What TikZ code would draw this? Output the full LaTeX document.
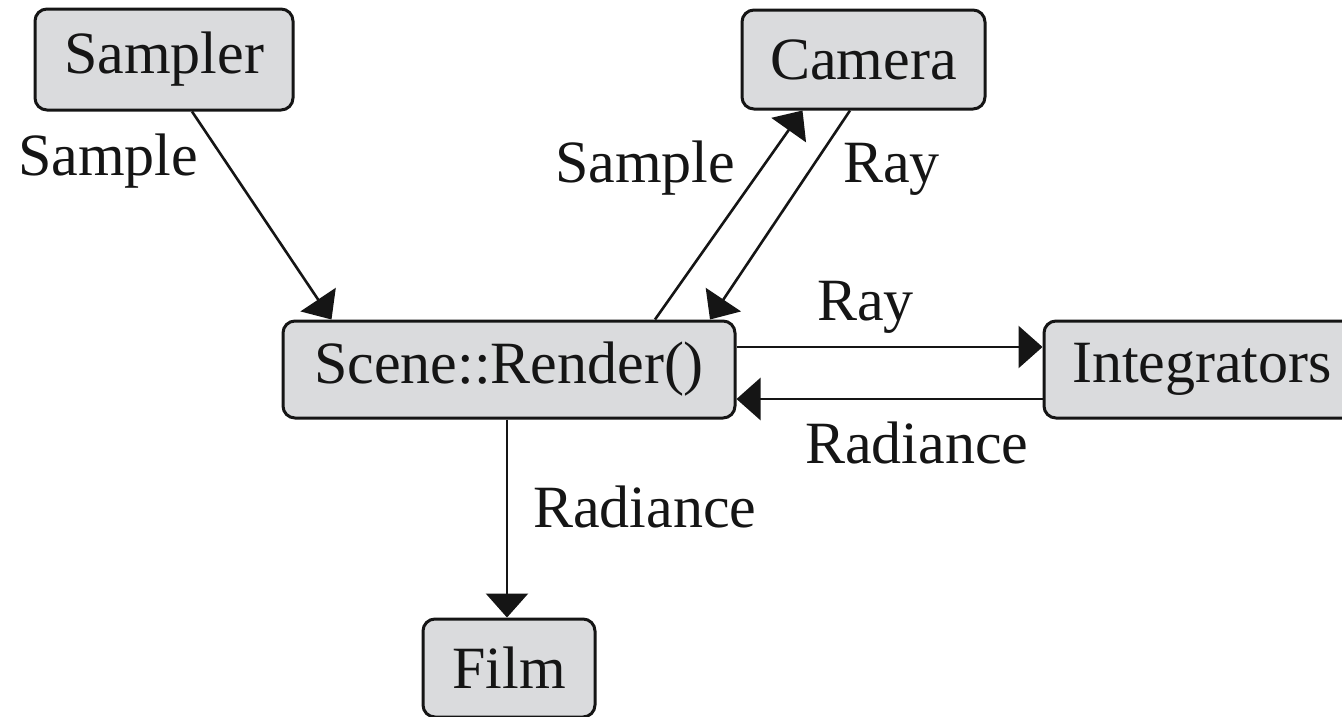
\documentclass[tikz,border=0pt]{standalone}
\usepackage{fontspec}
\setmainfont{Liberation Serif}
\usetikzlibrary{arrows.meta}
\definecolor{boxfill}{HTML}{DADBDD}
\definecolor{ink}{HTML}{151515}
\tikzset{
  blk/.style={draw=ink, line width=3pt, fill=boxfill, rounded corners=12pt, inner sep=0pt, font=\fontsize{60}{72}\selectfont, text=ink},
  lbl/.style={inner sep=0pt, anchor=base west, font=\fontsize{60}{72}\selectfont, text=ink},
  conn/.style={draw=ink, line width=2.6pt, -{Triangle[length=24pt,width=42pt]}},
}
\begin{document}
\begin{tikzpicture}[x=1pt,y=-1pt]
\useasboundingbox (0,0) rectangle (1342,716);
\clip (0,0) rectangle (1342,716);
\fill[white] (0,0) rectangle (1342,716);
% boxes
\node[blk, minimum width=258pt, minimum height=101pt] (sampler) at (164,59.5) {Sampler};
\node[blk, minimum width=243pt, minimum height=99pt] (camera) at (863.5,59.5) {Camera};
\node[blk, minimum width=452pt, minimum height=97pt] (scene) at (509,369.5) {Scene::Render()};
\node[blk, minimum width=316pt, minimum height=97pt] (integ) at (1202,369.5) {Integrators};
\node[blk, minimum width=172pt, minimum height=98pt] (film) at (509,668) {Film};
% connectors
\draw[conn] ([xshift=28pt]sampler.south) -- ([xshift=50pt]scene.north west);
\draw[conn] ([xshift=146pt]scene.north) -- ([xshift=-61pt]camera.south);
\draw[conn] ([xshift=-13.5pt]camera.south) -- ([xshift=201pt]scene.north);
\draw[conn] ([yshift=22.5pt]scene.east) -- ([yshift=22.5pt]integ.west);
\draw[conn] ([yshift=-29.5pt]integ.west) -- ([yshift=-29.5pt]scene.east);
\draw[conn] ([xshift=-2pt]scene.south) -- ([xshift=-2pt]film.north);
% labels
\node[lbl] (l1) at (18,175) {Sample};
\node[lbl] (l2) at (555,182) {Sample};
\node[lbl] (l3) at (843,182) {Ray};
\node[lbl] (l4) at (817,320) {Ray};
\node[lbl] (l5) at (805,463) {Radiance};
\node[lbl] (l6) at (533,527) {Radiance};
\end{tikzpicture}
\end{document}
